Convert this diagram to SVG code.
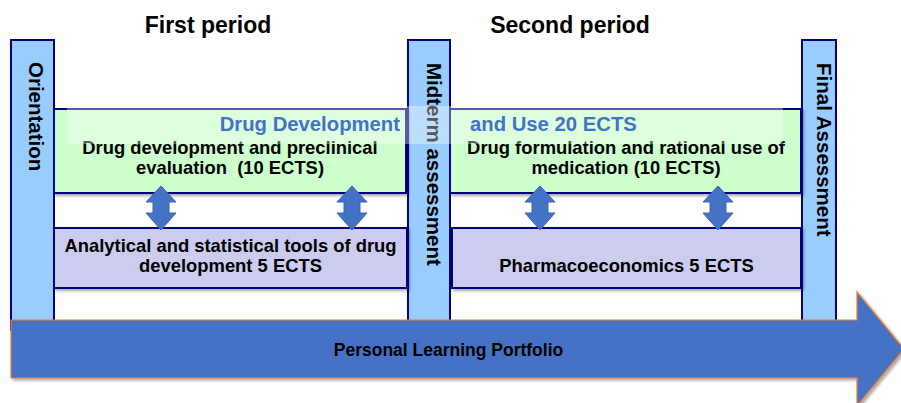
<svg xmlns="http://www.w3.org/2000/svg" width="901" height="403" viewBox="0 0 901 403">
<style>
.title{font-family:"Liberation Sans",Arial,sans-serif;font-weight:bold;font-size:23px;fill:#000;text-anchor:middle}
.vert{font-family:"Liberation Sans",Arial,sans-serif;font-weight:bold;font-size:20.5px;fill:#000}
.bar{fill:#99CCFF;stroke:#000080;stroke-width:2}
.green{fill:#CCFFCC;stroke:#000080;stroke-width:2}
.purple{fill:#CCCCEE;stroke:#000080;stroke-width:2}
.box{font-family:"Liberation Sans",Arial,sans-serif;font-weight:bold;font-size:18.4px;fill:#000;text-anchor:middle;white-space:pre}
.blue{font-family:"Liberation Sans",Arial,sans-serif;font-weight:bold;font-size:20.3px;fill:#4472C4}
.darr{fill:#4472C4;stroke:#3A64B0;stroke-width:1}
.big{fill:#4472C4;stroke:#ED7D31;stroke-width:1.2}
.plp{font-family:"Liberation Sans","Open Sans",sans-serif;font-weight:bold;font-size:17.5px;fill:#000;text-anchor:middle}
</style>
<defs>
<filter id="sh" x="-5%" y="-10%" width="115%" height="130%">
<feGaussianBlur in="SourceAlpha" stdDeviation="1.5"/>
<feOffset dx="2" dy="2" result="o"/>
<feComponentTransfer><feFuncA type="linear" slope="0.35"/></feComponentTransfer>
<feMerge><feMergeNode/><feMergeNode in="SourceGraphic"/></feMerge>
</filter>
</defs>
<rect width="901" height="403" fill="#fff"/>
<text class="title" x="208" y="33">First period</text>
<text class="title" x="570" y="33">Second period</text>

<g id="orientation">
<rect class="bar" x="11" y="40" width="43" height="290"/>
<text class="vert" transform="translate(29,62) rotate(90)">Orientation</text>
</g>
<g id="midterm">
<rect class="bar" x="408" y="40" width="42" height="290"/>
<text class="vert" transform="translate(427,63) rotate(90)">Midterm assessment</text>
</g>
<g id="final">
<rect class="bar" x="802" y="40" width="34" height="290"/>
<text class="vert" transform="translate(817,63) rotate(90)">Final Assessment</text>
</g>

<g id="drugdev1">
<rect class="green" x="54" y="109" width="352" height="84" filter="url(#sh)"/>
<text class="box" x="230" y="154">Drug development and preclinical</text>
<text class="box" x="230" y="174">evaluation  (10 ECTS)</text>
</g>
<g id="drugform">
<rect class="green" x="450" y="109" width="351" height="84" filter="url(#sh)"/>
<text class="box" x="626" y="154">Drug formulation and rational use of</text>
<text class="box" x="626" y="174">medication (10 ECTS)</text>
</g>
<g id="analytical">
<rect class="purple" x="54" y="228" width="353" height="60" filter="url(#sh)"/>
<text class="box" x="230.5" y="252">Analytical and statistical tools of drug</text>
<text class="box" x="230.5" y="272">development 5 ECTS</text>
</g>
<g id="pharmaco">
<rect class="purple" x="452" y="228" width="349" height="60" filter="url(#sh)"/>
<text class="box" x="626.5" y="272">Pharmacoeconomics 5 ECTS</text>
</g>

<g id="band">
<rect x="67" y="106" width="716" height="38" fill="#fff" fill-opacity="0.35"/>
<text class="blue" x="400" y="131" text-anchor="end">Drug Development</text>
<text class="blue" x="470" y="131">and Use 20 ECTS</text>
</g>

<g id="connectors">
<path class="darr" d="M161,186 L176,202 L169,202 L169,213 L176,213 L161,230 L146,213 L153,213 L153,202 L146,202 Z"/>
<path class="darr" d="M352,186 L367,202 L360,202 L360,213 L367,213 L352,230 L337,213 L344,213 L344,202 L337,202 Z"/>
<path class="darr" d="M540,186 L555,202 L548,202 L548,213 L555,213 L540,230 L525,213 L532,213 L532,202 L525,202 Z"/>
<path class="darr" d="M718,186 L733,202 L726,202 L726,213 L733,213 L718,230 L703,213 L710,213 L710,202 L703,202 Z"/>
</g>

<g id="portfolio">
<path class="big" d="M11,320 L857,320 L857,292 L904,349 L857,406 L857,378 L11,378 Z" filter="url(#sh)"/>
<text class="plp" x="448.5" y="356">Personal Learning Portfolio</text>
</g>
</svg>
